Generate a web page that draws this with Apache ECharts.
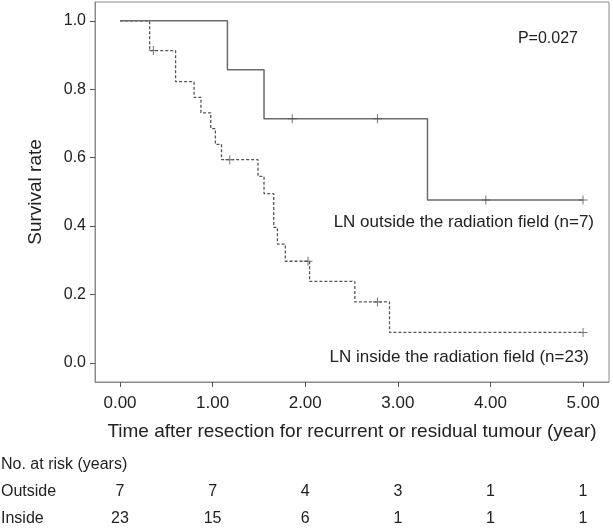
<!DOCTYPE html>
<html>
<head>
<meta charset="utf-8">
<script src="https://cdn.jsdelivr.net/npm/echarts@6/dist/echarts.min.js"></script>
<style>
html,body{margin:0;padding:0;background:#fff;}
#c{width:613px;height:528px;}
</style>
</head>
<body>
<div id="c"></div>
<script>
// ---- data ----
var outsideTimes = [0, 1.16, 1.555, 3.32, 5.0];
var outsideSurv  = [1.0, 0.857, 0.714, 0.476, 0.476];
var outsideCensor = [1.86, 2.78, 3.95, 5.0];

var insideTimes = [0, 0.32, 0.60, 0.80, 0.874, 0.98, 1.03, 1.096, 1.49, 1.555, 1.66, 1.70, 1.785, 2.047, 2.536, 2.91, 5.0];
var insideSurv  = [1.0, 0.913, 0.822, 0.776, 0.731, 0.685, 0.639, 0.594, 0.545, 0.495, 0.396, 0.347, 0.297, 0.238, 0.178, 0.089, 0.089];
var insideCensor = [0.36, 1.185, 2.03, 2.78, 5.0];

var xTicks = [0, 1, 2, 3, 4, 5];
var yTicks = [0, 0.2, 0.4, 0.6, 0.8, 1.0];

var riskTimes = [0, 1, 2, 3, 4, 5];
var outsideRisk = [7, 7, 4, 3, 1, 1];
var insideRisk = [23, 15, 6, 1, 1, 1];

// ---- helpers ----
function pairs(t, v) { return t.map(function (x, i) { return [x, v[i]]; }); }
function survAt(t, times, surv) {
  var s = surv[0];
  for (var i = 0; i < times.length; i++) { if (times[i] <= t) s = surv[i]; }
  return s;
}
function censorPts(c, times, surv) { return c.map(function (t) { return [t, survAt(t, times, surv)]; }); }

var plus = 'path://M-0.45,-4 L0.45,-4 L0.45,-0.45 L4,-0.45 L4,0.45 L0.45,0.45 L0.45,4 L-0.45,4 L-0.45,0.45 L-4,0.45 L-4,-0.45 L-0.45,-0.45 Z';
var FONT = 'Liberation Sans, Arial, sans-serif';
var TXT = '#222';

var chart = echarts.init(document.getElementById('c'), null, { renderer: 'canvas' });

var option = {
  animation: false,
  backgroundColor: '#fff',
  textStyle: { fontFamily: FONT },
  grid: { left: 95, top: 2, right: 4, bottom: 146, show: true, borderColor: '#8a8a8a', borderWidth: 1, backgroundColor: 'transparent' },
  xAxis: {
    type: 'value', min: -0.27, max: 5.28,
    name: 'Time after resection for recurrent or residual tumour (year)',
    nameLocation: 'middle', nameGap: 40,
    nameTextStyle: { fontSize: 19, color: TXT, fontFamily: FONT },
    axisLine: { show: true, onZero: false, lineStyle: { color: '#8a8a8a' } },
    axisTick: { show: true, length: 5, lineStyle: { color: '#555' }, customValues: xTicks },
    axisLabel: { fontSize: 17, color: TXT, margin: 13, fontFamily: FONT, customValues: xTicks,
      formatter: function (v) { return v.toFixed(2); } },
    splitLine: { show: false }
  },
  yAxis: {
    type: 'value', min: -0.056, max: 1.055,
    name: 'Survival rate', nameLocation: 'middle', nameGap: 50, nameRotate: 90,
    nameTextStyle: { fontSize: 19, color: TXT, fontFamily: FONT },
    axisLine: { show: true, onZero: false, lineStyle: { color: '#8a8a8a' } },
    axisTick: { show: true, length: 5, lineStyle: { color: '#555' }, customValues: yTicks },
    axisLabel: { fontSize: 16, color: TXT, margin: 9, fontFamily: FONT, customValues: yTicks,
      formatter: function (v) { return v.toFixed(1); } },
    splitLine: { show: false }
  },
  series: [
    {
      name: 'Outside', type: 'line', step: 'end', showSymbol: false, symbol: 'none',
      data: pairs(outsideTimes, outsideSurv),
      lineStyle: { color: '#6b6b6b', width: 1.5, type: 'solid' }, z: 3
    },
    {
      name: 'Inside', type: 'line', step: 'end', showSymbol: false, symbol: 'none',
      data: pairs(insideTimes, insideSurv),
      lineStyle: { color: '#555', width: 1.3, type: [3, 2] }, z: 2
    },
    {
      name: 'OutsideCensor', type: 'scatter', symbol: plus, symbolSize: 9,
      data: censorPts(outsideCensor, outsideTimes, outsideSurv),
      itemStyle: { color: '#555' }, z: 4
    },
    {
      name: 'InsideCensor', type: 'scatter', symbol: plus, symbolSize: 9,
      data: censorPts(insideCensor, insideTimes, insideSurv),
      itemStyle: { color: '#555' }, z: 4
    }
  ]
};
chart.setOption(option);

// annotation texts and number-at-risk table
var g = [];
function txt(x, y, s, align, size) {
  g.push({ type: 'text', x: x, y: y, style: { text: s, fill: TXT, font: size + 'px ' + FONT, textAlign: align, textVerticalAlign: 'middle' } });
}
txt(578, 39, 'P=0.027', 'right', 16);
txt(594, 222, 'LN outside the radiation field (n=7)', 'right', 17);
txt(589, 357, 'LN inside the radiation field (n=23)', 'right', 17);
txt(1, 465, 'No. at risk (years)', 'left', 16);
txt(1, 492, 'Outside', 'left', 16);
txt(1, 519, 'Inside', 'left', 16);
riskTimes.forEach(function (t, i) {
  var px = chart.convertToPixel({ xAxisIndex: 0 }, t);
  txt(px, 492, String(outsideRisk[i]), 'center', 16);
  txt(px, 519, String(insideRisk[i]), 'center', 16);
});
chart.setOption({ graphic: g });
</script>
</body>
</html>
